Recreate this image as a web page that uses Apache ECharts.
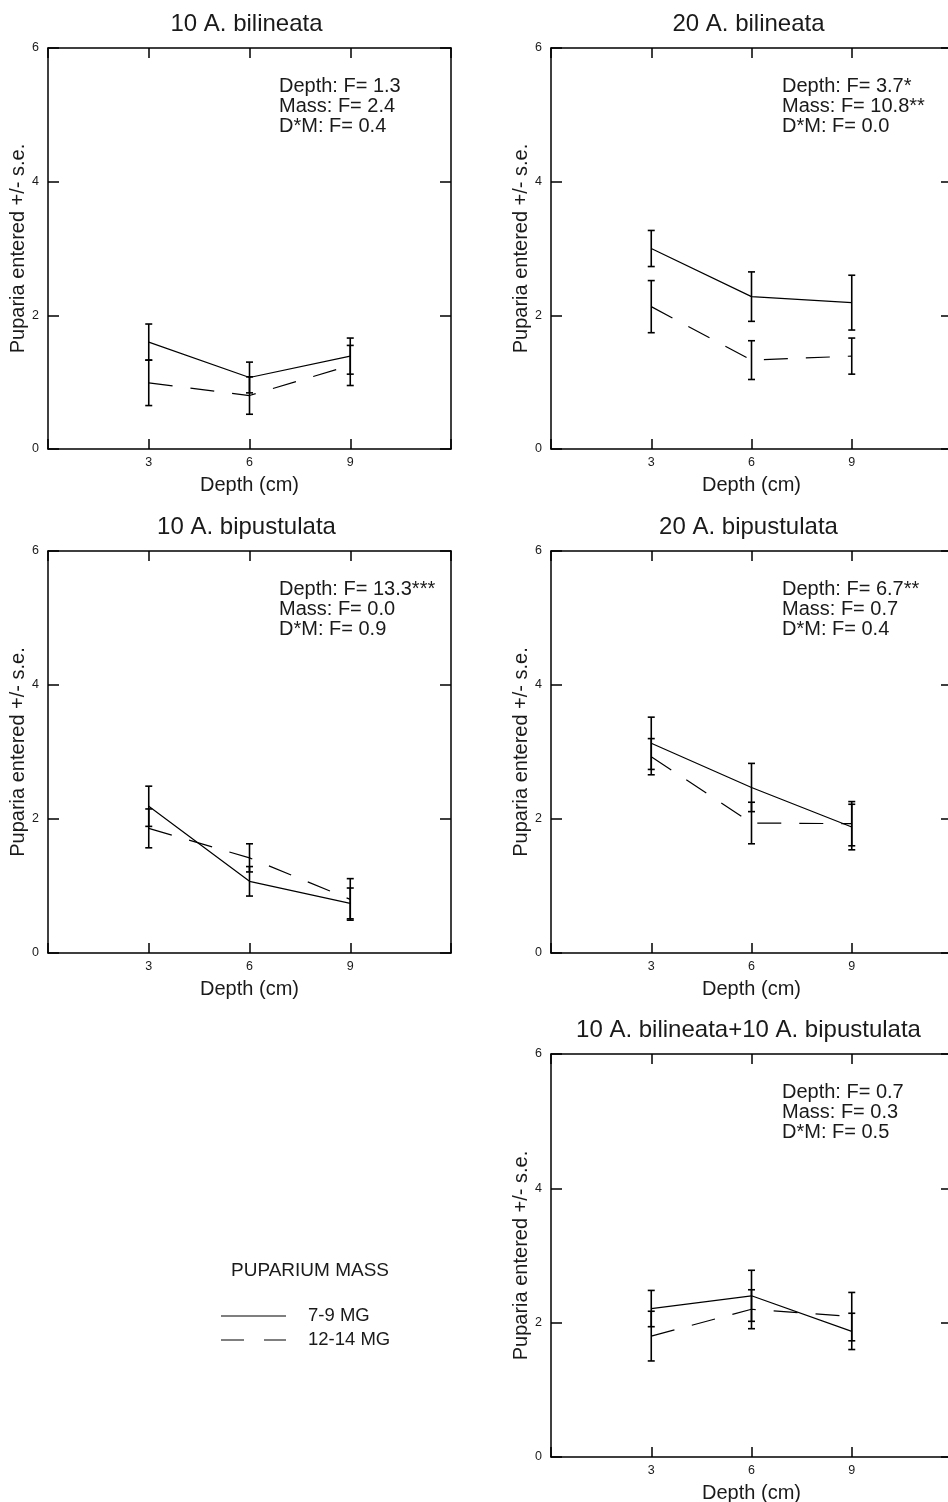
<!DOCTYPE html>
<html>
<head>
<meta charset="utf-8">
<script src="https://cdn.jsdelivr.net/npm/echarts@6/dist/echarts.min.js"></script>
<style>
  html, body { margin: 0; padding: 0; background: #ffffff; }
  #chart { width: 948px; height: 1502px; }
</style>
</head>
<body>
<div id="chart"></div>
<script>
// Soil depths at which puparia were placed (cm)
const depths = [3, 6, 9];
const yTicks = [0, 2, 4, 6];
const massGroups = ['7-9 MG', '12-14 MG'];

const panelTitles = [
  '10 A. bilineata',
  '20 A. bilineata',
  '10 A. bipustulata',
  '20 A. bipustulata',
  '10 A. bilineata+10 A. bipustulata'
];

// Mean puparia entered, 7-9 mg puparia, per panel
const mean79 = [
  [1.60, 1.07, 1.39],
  [3.00, 2.28, 2.19],
  [2.19, 1.07, 0.74],
  [3.13, 2.47, 1.88],
  [2.21, 2.40, 1.87]
];
const se79 = [
  [0.27, 0.23, 0.27],
  [0.27, 0.37, 0.41],
  [0.30, 0.22, 0.23],
  [0.39, 0.36, 0.34],
  [0.27, 0.38, 0.27]
];

// Mean puparia entered, 12-14 mg puparia, per panel
const mean1214 = [
  [0.99, 0.80, 1.25],
  [2.13, 1.33, 1.39],
  [1.86, 1.42, 0.80],
  [2.93, 1.94, 1.93],
  [1.80, 2.20, 2.09]
];
const se1214 = [
  [0.34, 0.28, 0.30],
  [0.39, 0.29, 0.27],
  [0.29, 0.21, 0.31],
  [0.27, 0.31, 0.33],
  [0.37, 0.29, 0.36]
];

// Two-way ANOVA results printed in each panel
const statLines = [
  ['Depth: F= 1.3', 'Mass: F= 2.4', 'D*M: F= 0.4'],
  ['Depth: F= 3.7*', 'Mass: F= 10.8**', 'D*M: F= 0.0'],
  ['Depth: F= 13.3***', 'Mass: F= 0.0', 'D*M: F= 0.9'],
  ['Depth: F= 6.7**', 'Mass: F= 0.7', 'D*M: F= 0.4'],
  ['Depth: F= 0.7', 'Mass: F= 0.3', 'D*M: F= 0.5']
];

// Plot rectangles (px) for the five panels
const panels = [
  { left: 48,  top: 48,   width: 403, height: 401 },
  { left: 551, top: 48,   width: 401, height: 401 },
  { left: 48,  top: 551,  width: 403, height: 402 },
  { left: 551, top: 551,  width: 401, height: 402 },
  { left: 551, top: 1054, width: 401, height: 403 }
];

const FONT = '"Liberation Sans", Arial, Helvetica, sans-serif';
const INK = '#000000';
const TEXT = '#1a1a1a';
const DASH = [24, 18];

function errorBarItem(params, api) {
  const x = api.value(0);
  const pLo = api.coord([x, api.value(1)]);
  const pHi = api.coord([x, api.value(2)]);
  const half = 3.5;
  const style = { stroke: INK, lineWidth: 1.6, fill: null };
  return {
    type: 'group',
    children: [
      { type: 'line', shape: { x1: pLo[0], y1: pLo[1], x2: pHi[0], y2: pHi[1] }, style },
      { type: 'line', shape: { x1: pLo[0] - half, y1: pLo[1], x2: pLo[0] + half, y2: pLo[1] }, style },
      { type: 'line', shape: { x1: pHi[0] - half, y1: pHi[1], x2: pHi[0] + half, y2: pHi[1] }, style }
    ]
  };
}

const grids = [], xAxes = [], yAxes = [], series = [], graphics = [];

panels.forEach((p, i) => {
  grids.push({ left: p.left, top: p.top, width: p.width, height: p.height, outerBoundsMode: 'none', containLabel: false });

  const lineStyle = { color: INK, width: 1.5 };
  const tickStyle = { color: INK, width: 1.5 };

  // bottom x axis with labels and title
  xAxes.push({
    gridIndex: i, type: 'value', position: 'bottom', min: 0, max: 12, interval: 3,
    axisLine: { show: true, onZero: false, lineStyle },
    axisTick: { show: true, inside: true, length: 10, lineStyle: tickStyle },
    axisLabel: {
      show: true, margin: 7, fontSize: 12.5, color: TEXT, fontFamily: FONT,
      formatter: v => (v === 0 || v === 12) ? '' : String(v)
    },
    splitLine: { show: false },
    name: 'Depth (cm)', nameLocation: 'middle', nameGap: 26,
    nameTextStyle: { fontSize: 20, color: TEXT, fontFamily: FONT }
  });
  // top x axis: frame edge with inward ticks
  xAxes.push({
    gridIndex: i, type: 'value', position: 'top', min: 0, max: 12, interval: 3,
    axisLine: { show: true, onZero: false, lineStyle },
    axisTick: { show: true, inside: true, length: 10, lineStyle: tickStyle },
    axisLabel: { show: false },
    splitLine: { show: false }
  });
  // left y axis
  yAxes.push({
    gridIndex: i, type: 'value', position: 'left', min: yTicks[0], max: yTicks[yTicks.length - 1], interval: 2,
    axisLine: { show: true, onZero: false, lineStyle },
    axisTick: { show: true, inside: true, length: 11, lineStyle: tickStyle },
    axisLabel: { show: true, margin: 9, fontSize: 12.5, color: TEXT, fontFamily: FONT },
    splitLine: { show: false },
    name: 'Puparia entered +/- s.e.', nameLocation: 'middle', nameGap: 10, nameRotate: 90,
    nameTextStyle: { fontSize: 20, color: TEXT, fontFamily: FONT }
  });
  // right y axis: frame edge with inward ticks
  yAxes.push({
    gridIndex: i, type: 'value', position: 'right', min: yTicks[0], max: yTicks[yTicks.length - 1], interval: 2,
    axisLine: { show: true, onZero: false, lineStyle },
    axisTick: { show: true, inside: true, length: 11, lineStyle: tickStyle },
    axisLabel: { show: false },
    splitLine: { show: false }
  });

  const groups = [
    { name: massGroups[0], mean: mean79[i], se: se79[i], type: 'solid' },
    { name: massGroups[1], mean: mean1214[i], se: se1214[i], type: DASH }
  ];

  groups.forEach(g => {
    series.push({
      name: g.name, type: 'line', xAxisIndex: 2 * i, yAxisIndex: 2 * i,
      data: depths.map((d, k) => [d, g.mean[k]]),
      symbol: 'none', color: INK,
      lineStyle: { color: INK, width: 1.2, type: g.type },
      silent: true, animation: false, z: 3
    });
    series.push({
      name: g.name + ' s.e.', type: 'custom', xAxisIndex: 2 * i, yAxisIndex: 2 * i,
      data: depths.map((d, k) => [d, g.mean[k] - g.se[k], g.mean[k] + g.se[k]]),
      encode: { x: 0, y: [1, 2] },
      renderItem: errorBarItem,
      silent: true, animation: false, z: 4
    });
  });

  // panel heading
  graphics.push({
    type: 'text', x: p.left + p.width / 2 - 3, y: p.top - 24, silent: true,
    style: {
      text: panelTitles[i], fill: TEXT, fontSize: 24, fontFamily: FONT,
      align: 'center', verticalAlign: 'middle'
    }
  });
  // ANOVA summary
  graphics.push({
    type: 'text', x: p.left + 231, y: p.top + 28, silent: true,
    style: {
      text: statLines[i].join('\n'), fill: TEXT, fontSize: 20, fontFamily: FONT,
      lineHeight: 20, align: 'left', verticalAlign: 'top'
    }
  });
});

// legend block
graphics.push({
  type: 'text', x: 310, y: 1271, silent: true,
  style: { text: 'PUPARIUM MASS', fill: TEXT, fontSize: 19, fontFamily: FONT, align: 'center', verticalAlign: 'middle' }
});
graphics.push({
  type: 'line', silent: true, shape: { x1: 221, y1: 1316, x2: 286, y2: 1316 },
  style: { stroke: INK, lineWidth: 1.2 }
});
graphics.push({
  type: 'text', x: 308, y: 1316, silent: true,
  style: { text: massGroups[0], fill: TEXT, fontSize: 18.5, fontFamily: FONT, align: 'left', verticalAlign: 'middle' }
});
graphics.push({
  type: 'line', silent: true, shape: { x1: 221, y1: 1340, x2: 286, y2: 1340 },
  style: { stroke: INK, lineWidth: 1.2, lineDash: [23, 20] }
});
graphics.push({
  type: 'text', x: 308, y: 1340, silent: true,
  style: { text: massGroups[1], fill: TEXT, fontSize: 18.5, fontFamily: FONT, align: 'left', verticalAlign: 'middle' }
});

const chart = echarts.init(document.getElementById('chart'), null, { renderer: 'canvas' });
chart.setOption({
  backgroundColor: '#ffffff',
  animation: false,
  textStyle: { fontFamily: FONT },
  grid: grids,
  xAxis: xAxes,
  yAxis: yAxes,
  series: series,
  graphic: graphics,
  tooltip: { show: false }
});
</script>
</body>
</html>
